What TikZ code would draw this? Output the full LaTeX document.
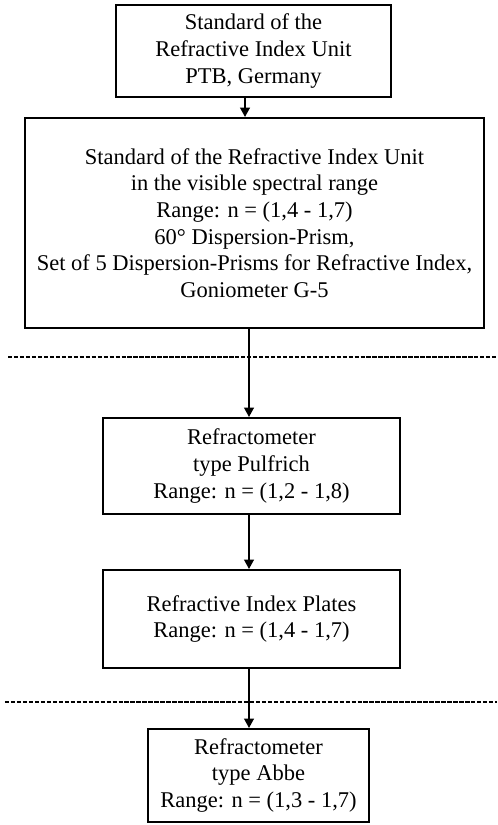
\documentclass[tikz,border=0pt]{standalone}
\usepackage{fontspec}
\setmainfont{Liberation Serif}
\usepackage{tikz}
\usetikzlibrary{arrows.meta}
\usetikzlibrary{positioning}
\tikzset{
    stdbox/.style = {rectangle, draw=black, line width=1.5pt, align=center, fill=white, inner sep=0pt},
}

\begin{document}
\begin{tikzpicture}[
	font=\fontsize{19.2}{22.8}\selectfont
]
\tikzset{
    arr/.style = {-{Triangle[length=8pt,width=8pt]}, line width=2pt},
    sep/.style = {line width=2pt, dash pattern=on 3.8pt off 1.3pt}
}
\useasboundingbox (0,0) rectangle (14.91,24.75);
\node[stdbox, minimum width=8.25cm, minimum height=2.76cm] at (7.605,23.22) (ptb) {Standard of the\\Refractive Index Unit\\PTB, Germany};
\node[stdbox, minimum width=13.77cm, minimum height=6.3cm] at (7.635,18.06) (vis) {Standard of the Refractive Index Unit\\in the visible spectral range\\Range: n = (1,4 - 1,7)\\60° Dispersion-Prism,\\Set of 5 Dispersion-Prisms for Refractive Index,\\Goniometer G-5};
\node[stdbox, minimum width=8.91cm, minimum height=2.88cm] at (7.545,10.77) (pulf) {Refractometer\\type Pulfrich\\Range: n = (1,2 - 1,8)};
\node[stdbox, minimum width=8.91cm, minimum height=2.94cm] at (7.545,6.18) (plates) {Refractive Index Plates\\Range: n = (1,4 - 1,7)};
\node[stdbox, minimum width=6.63cm, minimum height=2.79cm] at (7.755,1.485) (abbe) {Refractometer\\type Abbe\\Range: n = (1,3 - 1,7)};
%
\coordinate (x1) at (7.35,0);
\coordinate (x2) at (7.47,0);
\draw[arr] (ptb.south -| x1) -- (vis.north -| x1);
\draw[arr] (vis.south -| x2) -- (pulf.north -| x2);
\draw[arr] (pulf.south -| x2) -- (plates.north -| x2);
\draw[arr] (plates.south -| x2) -- (abbe.north -| x2);
%
\coordinate (s1a) at (0.24,14.04);
\coordinate (s1b) at (14.91,14.04);
\coordinate (s2a) at (0.15,3.69);
\coordinate (s2b) at (14.91,3.69);
\draw[sep] (s1a) -- (s1b);
\draw[sep] (s2a) -- (s2b);
\end{tikzpicture}
\end{document}
